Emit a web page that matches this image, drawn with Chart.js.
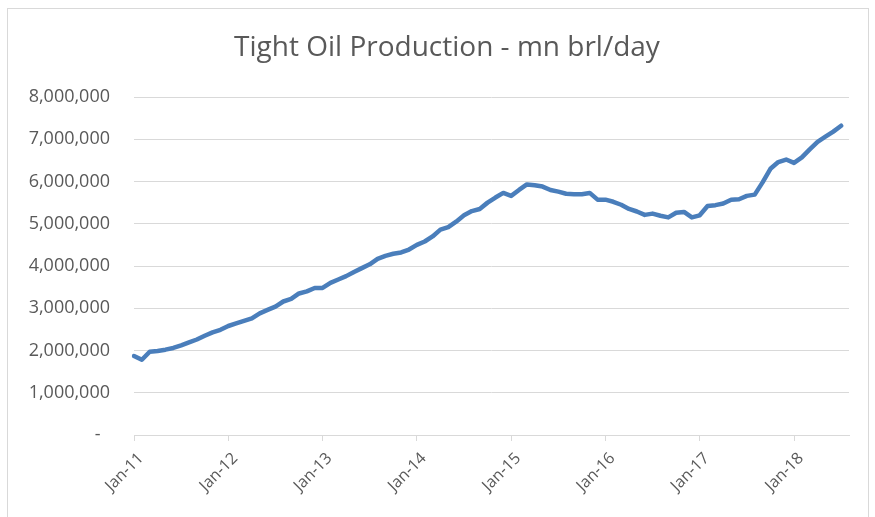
<!DOCTYPE html>
<html>
<head>
<meta charset="utf-8">
<script src="https://cdn.jsdelivr.net/npm/chart.js@4/dist/chart.umd.min.js"></script>
<style>
  html, body { margin: 0; padding: 0; background: #fff; }
  #frame { position: absolute; left: 7px; top: 8px; width: 862px; height: 520px; border: 1px solid #d9d9d9; box-sizing: border-box; }
  #wrap { position: absolute; left: 0; top: 0; width: 875px; height: 517px; }
</style>
</head>
<body>
<div id="frame"></div>
<div id="wrap"><canvas id="chart" width="875" height="517"></canvas></div>
<script>
// monthly tight oil production, barrels/day, Jan-11 .. Jul-18
const years = ['11', '12', '13', '14', '15', '16', '17', '18'];
const monthNames = ['Jan', 'Feb', 'Mar', 'Apr', 'May', 'Jun', 'Jul', 'Aug', 'Sep', 'Oct', 'Nov', 'Dec'];
const production = [
  1870000, 1780000, 1970000, 1990000, 2020000, 2060000, 2120000, 2190000, 2260000, 2350000, 2430000, 2490000,
  2580000, 2640000, 2700000, 2760000, 2880000, 2960000, 3040000, 3160000, 3220000, 3350000, 3400000, 3480000,
  3480000, 3600000, 3680000, 3760000, 3860000, 3950000, 4040000, 4170000, 4240000, 4290000, 4320000, 4390000,
  4500000, 4580000, 4700000, 4860000, 4920000, 5050000, 5200000, 5300000, 5350000, 5500000, 5620000, 5730000,
  5660000, 5800000, 5930000, 5910000, 5880000, 5800000, 5760000, 5710000, 5700000, 5700000, 5730000, 5570000,
  5570000, 5520000, 5450000, 5350000, 5290000, 5210000, 5240000, 5190000, 5150000, 5260000, 5280000, 5150000,
  5200000, 5420000, 5440000, 5480000, 5570000, 5580000, 5660000, 5690000, 5980000, 6300000, 6460000, 6520000,
  6440000, 6570000, 6760000, 6940000, 7060000, 7180000, 7320000
];
const yTicks = [0, 1000000, 2000000, 3000000, 4000000, 5000000, 6000000, 7000000, 8000000];
const chartTitle = 'Tight Oil Production - mn brl/day';

// axis runs one month past the last reading, as in the original
const labels = [];
years.forEach(y => monthNames.forEach(m => labels.push(m + '-' + y)));
labels.length = production.length + 1;

const grey = '#595959';
const gridGrey = '#d9d9d9';

// Excel centres the title on the whole chart frame, not on the plot
const frameTitle = {
  id: 'frameTitle',
  afterDraw(chart) {
    const ctx = chart.ctx;
    ctx.save();
    ctx.font = '28px "Open Sans"';
    ctx.fillStyle = grey;
    ctx.textAlign = 'center';
    ctx.textBaseline = 'middle';
    ctx.fillText(chartTitle, 447, 48);
    ctx.restore();
  }
};

new Chart(document.getElementById('chart'), {
  type: 'line',
  data: {
    labels: labels,
    datasets: [{
      label: 'Tight Oil Production',
      data: production,
      borderColor: '#4a7ebb',
      borderWidth: 4.5,
      borderCapStyle: 'round',
      borderJoinStyle: 'round',
      pointRadius: 0,
      tension: 0,
      fill: false
    }]
  },
  options: {
    responsive: false,
    animation: false,
    layout: { padding: { left: 0, right: 26, top: 97, bottom: 0 } },
    plugins: {
      legend: { display: false },
      tooltip: { enabled: false },
      title: { display: false }
    },
    scales: {
      x: {
        type: 'category',
        offset: false,
        afterBuildTicks: axis => { axis.ticks = axis.ticks.filter(t => t.value % 12 === 0); },
        afterFit: axis => { axis.height = 82; },
        grid: { display: true, drawOnChartArea: false, drawTicks: true, tickLength: 6, color: gridGrey },
        border: { display: true, color: gridGrey, width: 1 },
        ticks: {
          autoSkip: false,
          maxRotation: 45,
          minRotation: 45,
          padding: 8,
          labelOffset: 7,
          color: grey,
          font: { family: 'Open Sans', size: 16 }
        }
      },
      y: {
        min: 0,
        max: 8000000,
        afterFit: axis => { axis.width = 134; },
        afterBuildTicks: axis => { axis.ticks = yTicks.map(v => ({ value: v })); },
        grid: { color: gridGrey, drawTicks: false, lineWidth: 1 },
        border: { display: false },
        ticks: {
          padding: 24,
          color: grey,
          font: { family: 'Open Sans', size: 18 },
          callback: v => v === 0 ? '-  ' : v.toLocaleString('en-US')
        }
      }
    }
  },
  plugins: [frameTitle]
});
</script>
</body>
</html>
